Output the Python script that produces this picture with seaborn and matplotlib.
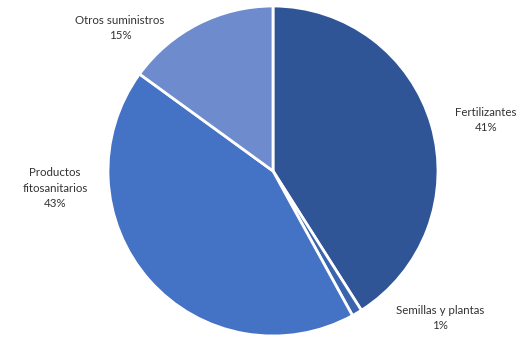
import matplotlib
matplotlib.use("Agg")
import matplotlib.pyplot as plt
import seaborn as sns

categories = ["Fertilizantes", "Semillas y plantas", "Productos\nfitosanitarios", "Otros suministros"]
values = [41, 1, 43, 15]
colors = ["#2F5597", "#3A64AE", "#4472C4", "#6E8BCE"]

sns.set_theme(style="white")
plt.rcParams['font.family'] = ['Lato', 'DejaVu Sans']

H = 356
fig = plt.figure(figsize=(5.27, 3.56), dpi=100)
ax = fig.add_axes([0, 0, 1, 1])

wedges, _ = ax.pie(values, colors=colors, startangle=90, counterclock=False,
                   center=(273, H - 171), radius=165,
                   wedgeprops=dict(edgecolor='white', linewidth=2))
ax.set_xlim(0, 527)
ax.set_ylim(0, H)
ax.set_aspect('equal')
ax.axis('off')

label_pos = [(486, 120), (440, 318), (55, 188), (120, 28)]
for cat, v, (x, y) in zip(categories, values, label_pos):
    ax.text(x, H - y, f"{cat}\n{v}%", ha='center', va='center', fontsize=8.3,
            color='#333333', linespacing=1.55, multialignment='center')

fig.savefig("out.png", dpi=100)
